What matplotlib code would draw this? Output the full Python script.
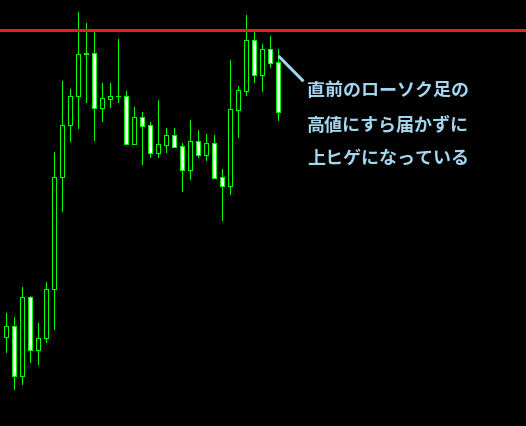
#!/usr/bin/env python3
import matplotlib
matplotlib.use("Agg")
import matplotlib.pyplot as plt
from matplotlib.patches import Rectangle

# candle values (price units = pixels above the bottom edge)
H = 426
opens = [336.7, 326.3, 375.7, 297.3, 349.7, 338.3, 289.3, 177.3, 125.3, 96.3,
         54.3, 53.3, 107.7, 98.7, 96.3, 96.3, 143.7, 117.3, 125.3, 152.7,
         144.7, 135.3, 146.3, 169.7, 141.3, 154.7, 143.3, 177.3, 185.7, 109.7,
         90.7, 40.3, 74.7, 49.3, 62.3]
closes = [326.3, 375.7, 297.3, 349.7, 338.3, 289.3, 177.3, 125.3, 96.3, 54.3,
          53.0, 107.7, 98.3, 96.3, 96.3, 143.7, 117.3, 125.7, 152.7, 144.3,
          135.3, 146.7, 169.7, 141.3, 154.7, 143.3, 177.7, 185.7, 109.0, 90.0,
          40.3, 74.7, 49.3, 62.7, 111.7]
highs = [313.0, 317.0, 287.3, 296.3, 323.3, 282.3, 152.3, 81.0, 89.0, 12.0,
         23.0, 31.0, 83.0, 83.0, 39.0, 91.0, 107.0, 112.0, 122.0, 100.0,
         128.0, 128.0, 143.0, 120.0, 130.0, 134.0, 135.0, 169.0, 60.0, 86.0,
         15.0, 32.0, 44.0, 36.0, 49.0]
lows = [351.7, 388.7, 383.7, 361.7, 363.7, 341.7, 328.7, 210.7, 140.7, 127.7,
        101.7, 139.7, 120.7, 106.7, 101.7, 144.0, 143.7, 163.7, 156.7, 156.7,
        151.7, 146.7, 190.7, 178.7, 156.7, 159.7, 177.7, 219.7, 193.7, 136.7,
        94.7, 81.7, 90.7, 66.7, 119.7]
resistance = 30.0

lines = ["直前のローソク足の", "高値にすら届かずに", "上ヒゲになっている"]

GREEN = "#00ff00"
px = 72 / 100

fig = plt.figure(figsize=(5.26, 4.26), dpi=100, facecolor="black")
ax = fig.add_axes([0, 0, 1, 1], facecolor="black")
ax.set_axis_off()

for i, (o, c, h, l) in enumerate(zip(opens, closes, highs, lows)):
    o, c, h, l = H - o, H - c, H - h, H - l
    ax.plot([i, i], [l, h], color=GREEN, lw=px, zorder=2,
            solid_capstyle="butt", antialiased=False)
    if abs(c - o) < 0.5:
        ax.plot([i - 0.25, i + 0.25], [o, o], color=GREEN, lw=px,
                zorder=3, antialiased=False)
        continue
    face = "black" if c > o else "white"
    ax.add_patch(Rectangle((i - 0.25, min(o, c)), 0.5, abs(c - o),
                           facecolor=face, edgecolor=GREEN, lw=px,
                           zorder=3, antialiased=False))

ax.axhline(H - resistance, color="#e3202a", lw=3 * px, zorder=4)

# pointer from the last candle to the note
ax.plot([34.125, 37.25], [H - 56, H - 81.3], color="#a4d6ee", lw=3 * px,
        zorder=5, solid_capstyle="butt")

ax.set_xlim(-5.5 / 8, (526 - 5.5) / 8)
ax.set_ylim(0, H)

for txt, y in zip(lines, [90.7, 125, 158]):
    fig.text(307 / 526, 1 - y / 426, txt, color="#a4d6ee", fontsize=13,
             fontweight="bold", va="center", ha="left",
             family=["Noto Sans CJK JP", "DejaVu Sans"])

fig.savefig("out.png", dpi=100, facecolor="black")
